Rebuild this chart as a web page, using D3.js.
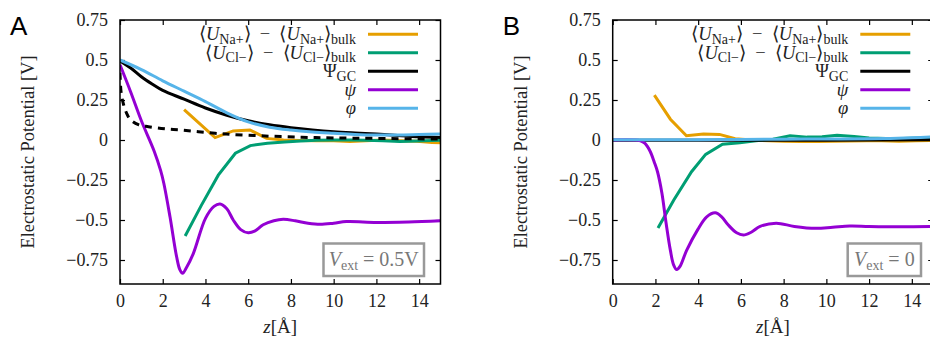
<!DOCTYPE html>
<html>
<head>
<meta charset="utf-8">
<script src="https://cdn.jsdelivr.net/npm/d3@7"></script>
<style>
  body { margin: 0; background: #fff; }
  svg { display: block; }
  text { font-family: 'Liberation Serif', 'Times New Roman', serif; }
</style>
</head>
<body>
<svg id="chart" width="930" height="341"></svg>
<script>
// ticks
const xTicks = [0, 2, 4, 6, 8, 10, 12, 14];
const yTicks = [-0.75, -0.5, -0.25, 0, 0.25, 0.5, 0.75];
const yTickLabels = ['\u22120.75', '\u22120.5', '\u22120.25', '0', '0.25', '0.5', '0.75'];

// panel A (Vext = 0.5 V)
const naA_z = [3.0, 4.45, 5.3, 6.08, 6.86, 7.65, 8.43, 9.2, 10.0, 10.76, 11.5, 12.3, 13.1, 13.9, 14.6, 15.4];
const naA_v = [0.19, 0.015, 0.057, 0.063, 0.01, 0.0, -0.003, -0.005, -0.005, -0.01, -0.005, 0.0, -0.005, -0.008, -0.015, -0.02];
const clA_z = [3.05, 3.8, 4.6, 5.4, 6.1, 6.9, 7.7, 8.45, 9.2, 10.0, 10.8, 11.5, 12.3, 13.1, 13.9, 14.6, 15.4];
const clA_v = [-0.6, -0.41, -0.22, -0.083, -0.035, -0.02, -0.012, -0.006, -0.002, 0.0, 0.0, -0.002, -0.005, -0.01, -0.007, -0.003, 0.0];
const gcA_z = [0, 0.5, 1, 1.5, 2, 3, 4, 5, 6, 7, 8, 9, 10, 11, 12, 13, 14, 15];
const gcA_v = [0.494, 0.45, 0.395, 0.35, 0.31, 0.255, 0.2, 0.155, 0.12, 0.095, 0.077, 0.063, 0.052, 0.044, 0.037, 0.028, 0.02, 0.015];
const psiA_z = [0, 0.5, 1.0, 1.6, 1.9, 2.05, 2.34, 2.65, 2.8, 2.93, 3.1, 3.43, 4.0, 4.4, 4.68, 5.0, 5.3, 5.65, 6.0, 6.3, 6.7, 7.2, 7.64, 8.2, 8.8, 9.36, 10.0, 10.6, 12.0, 13.5, 15.0];
const psiA_v = [0.47, 0.3, 0.12, -0.07, -0.19, -0.27, -0.48, -0.73, -0.81, -0.833, -0.8, -0.71, -0.49, -0.415, -0.4, -0.43, -0.5, -0.56, -0.58, -0.57, -0.53, -0.505, -0.496, -0.505, -0.52, -0.527, -0.52, -0.51, -0.515, -0.512, -0.505];
const phiA_z = [0, 1, 2, 3, 4, 5, 6, 7, 8, 9, 10, 11, 12, 13, 14, 15];
const phiA_v = [0.5, 0.44, 0.37, 0.305, 0.24, 0.17, 0.113, 0.08, 0.062, 0.05, 0.042, 0.035, 0.031, 0.031, 0.034, 0.037];
const dashA_z = [0, 0.05, 0.15, 0.3, 0.47, 0.86, 1.33, 2.1, 2.9, 3.67, 4.45, 5.2, 6.8, 8.5, 10, 12, 15];
const dashA_v = [0.42, 0.3, 0.23, 0.17, 0.13, 0.096, 0.083, 0.07, 0.062, 0.052, 0.042, 0.035, 0.025, 0.017, 0.013, 0.01, 0.006];

// panel B (Vext = 0)
const naB_z = [1.95, 2.7, 3.45, 4.25, 5.0, 5.73, 6.5, 7.3, 8.0, 8.8, 9.6, 10.3, 11.1, 11.9, 12.6, 13.4, 14.2, 15.0];
const naB_v = [0.28, 0.13, 0.027, 0.037, 0.035, 0.008, 0.0, -0.005, -0.008, -0.01, -0.01, -0.008, -0.006, -0.004, -0.004, -0.008, -0.005, -0.003];
const clB_z = [2.12, 2.86, 3.69, 4.35, 5.14, 5.95, 6.7, 7.5, 8.3, 9.1, 9.8, 10.5, 11.3, 12.0, 12.8, 13.6, 14.4, 15.2];
const clB_v = [-0.55, -0.375, -0.198, -0.09, -0.027, -0.017, -0.005, 0.005, 0.027, 0.018, 0.02, 0.03, 0.022, 0.012, 0.01, 0.01, 0.012, 0.012];
const gcB_z = [0, 5, 10, 15];
const gcB_v = [-0.002, -0.002, -0.001, 0.002];
const psiB_z = [0, 1.0, 1.3, 1.5, 1.75, 1.95, 2.1, 2.3, 2.5, 2.7, 2.85, 3.0, 3.15, 3.46, 3.98, 4.4, 4.8, 5.1, 5.4, 5.8, 6.12, 6.5, 6.9, 7.65, 8.5, 9.5, 10.3, 11.1, 12.0, 13.5, 15.0];
const psiB_v = [0, 0, -0.005, -0.02, -0.07, -0.14, -0.2, -0.33, -0.52, -0.69, -0.78, -0.81, -0.79, -0.69, -0.56, -0.48, -0.455, -0.48, -0.53, -0.58, -0.594, -0.575, -0.54, -0.52, -0.54, -0.552, -0.545, -0.5375, -0.54, -0.542, -0.54];
const phiB_z = [0, 2, 4, 6, 8, 10, 12, 13, 14, 15];
const phiB_v = [0.002, 0.002, 0.002, 0.003, 0.005, 0.006, 0.008, 0.01, 0.014, 0.02];

const colors = { na: '#E69F00', cl: '#009E73', gc: '#000000', psi: '#9400D3', phi: '#56B4E9' };
const serif = "'Liberation Serif', 'Times New Roman', serif";

function zip(zs, vs) { return zs.map((z, i) => ({ z: z, v: vs[i] })); }

const svg = d3.select('#chart');

function drawPanel(p) {
  let x = d3.scaleLinear().domain([0, 15]).range([p.left, p.left + 320.5]);
  let y = d3.scaleLinear().domain([-0.9, 0.75]).range([284, 20]);
  let g = svg.append('g');

  g.append('clipPath').attr('id', 'clip' + p.id)
    .append('rect').attr('x', x(0)).attr('y', y(0.75)).attr('width', x(15) - x(0)).attr('height', y(-0.9) - y(0.75));

  // axes, ticks pointing inward on all four sides
  g.append('g').attr('transform', `translate(${x(0)},0)`)
    .call(d3.axisLeft(y).tickValues(yTicks).tickSize(-5).tickPadding(12).tickFormat((d, i) => yTickLabels[i]))
    .call(a => a.select('.domain').remove());
  g.append('g').attr('transform', `translate(${x(15)},0)`)
    .call(d3.axisRight(y).tickValues(yTicks).tickSize(-5).tickFormat(''))
    .call(a => a.select('.domain').remove());
  g.append('g').attr('transform', `translate(0,${y(-0.9)})`)
    .call(d3.axisBottom(x).tickValues(xTicks).tickSize(-5).tickPadding(10).tickFormat(d3.format('d')))
    .call(a => a.select('.domain').remove());
  g.append('g').attr('transform', `translate(0,${y(0.75)})`)
    .call(d3.axisTop(x).tickValues(xTicks).tickSize(-5).tickFormat(''))
    .call(a => a.select('.domain').remove());
  g.selectAll('.tick line').attr('stroke', '#000').attr('stroke-width', 1.2);
  g.selectAll('.tick text').attr('font-size', 18).attr('fill', '#222')
    .style('font-family', serif);

  let line = d3.line().x(d => x(d.z)).y(d => y(d.v));
  let plot = g.append('g').attr('clip-path', `url(#clip${p.id})`);

  p.series.forEach(s => {
    plot.append('path')
      .datum(zip(s.z, s.v))
      .attr('fill', 'none')
      .attr('stroke', s.color)
      .attr('stroke-width', 3)
      .attr('stroke-dasharray', s.dash || null)
      .attr('d', line.curve(s.smooth ? d3.curveCatmullRom : d3.curveLinear));
  });

  // frame
  g.append('rect').attr('x', x(0)).attr('y', y(0.75)).attr('width', x(15) - x(0)).attr('height', y(-0.9) - y(0.75))
    .attr('fill', 'none').attr('stroke', '#000').attr('stroke-width', 1.5);

  // legend
  let mid = '\u27E9\u2002\u2212\u2002\u27E8';
  let rows = [
    { c: colors.na, parts: [['\u27E8', 0], ['U', 'i'], ['Na+', 's'], [mid, 0], ['U', 'i'], ['Na+', 's'], ['\u27E9', 0], ['bulk', 's']] },
    { c: colors.cl, parts: [['\u27E8', 0], ['U', 'i'], ['Cl\u2212', 's'], [mid, 0], ['U', 'i'], ['Cl\u2212', 's'], ['\u27E9', 0], ['bulk', 's']] },
    { c: colors.gc, parts: [['\u03A8', 0], ['GC', 's']] },
    { c: colors.psi, parts: [['\u03C8', 'i']] },
    { c: colors.phi, parts: [['\u03C6', 'i']] }
  ];
  let lx = x(0) + p.legendText;
  rows.forEach((r, i) => {
    let ly = 34.3 + i * 18.5;
    g.append('line').attr('x1', lx + 12).attr('x2', lx + 62).attr('y1', ly).attr('y2', ly)
      .attr('stroke', r.c).attr('stroke-width', 3);
    let t = g.append('text').attr('x', lx).attr('y', ly + 6).attr('text-anchor', 'end')
      .attr('font-size', 18.5).attr('fill', '#222');
    let sub = false;
    r.parts.forEach(pt => {
      let ts = t.append('tspan').text(pt[0]);
      if (pt[1] === 'i') ts.attr('font-style', 'italic');
      if (pt[1] === 's') {
        ts.attr('font-size', 14);
        if (!sub) ts.attr('dy', 3.5);
        sub = true;
      } else if (sub) {
        ts.attr('dy', -3.5);
        sub = false;
      }
    });
  });

  // Vext box
  let bx = g.append('g');
  bx.append('rect').attr('x', p.box[0]).attr('y', 243.5).attr('width', p.box[1]).attr('height', 32.5)
    .attr('fill', '#fff').attr('stroke', '#999').attr('stroke-width', 2.5);
  let bt = bx.append('text').attr('x', p.box[0] + p.box[1] / 2).attr('y', 265.5).attr('text-anchor', 'middle')
    .attr('font-size', 20).attr('fill', '#777');
  bt.append('tspan').attr('font-style', 'italic').text('V');
  bt.append('tspan').attr('font-size', 14).attr('dy', 4).text('ext');
  bt.append('tspan').attr('dy', -4).text(' = ' + p.vext);

  // axis titles and panel letter
  g.append('text').attr('transform', `translate(${p.left - 86},152) rotate(-90)`)
    .attr('text-anchor', 'middle').attr('font-size', 18.5).attr('fill', '#222')
    .text('Electrostatic Potential [V]');
  let xt = g.append('text').attr('x', x(7.5)).attr('y', 333).attr('text-anchor', 'middle')
    .attr('font-size', 19).attr('fill', '#222');
  xt.append('tspan').attr('font-style', 'italic').text('z');
  xt.append('tspan').text('[\u00C5]');
  g.append('text').attr('x', p.left - 110).attr('y', 35).attr('font-size', 26)
    .style('font-family', "'Liberation Sans', Arial, sans-serif").attr('fill', '#000').text(p.id);
}

drawPanel({
  id: 'A', left: 120, legendText: 236, box: [323.5, 100.5], vext: '0.5V',
  series: [
    { z: naA_z, v: naA_v, color: colors.na },
    { z: clA_z, v: clA_v, color: colors.cl },
    { z: gcA_z, v: gcA_v, color: colors.gc, smooth: true },
    { z: psiA_z, v: psiA_v, color: colors.psi, smooth: true },
    { z: phiA_z, v: phiA_v, color: colors.phi, smooth: true },
    { z: dashA_z, v: dashA_v, color: colors.gc, smooth: true, dash: '7,6' }
  ]
});

drawPanel({
  id: 'B', left: 612.7, legendText: 235.6, box: [847.7, 73.3], vext: '0',
  series: [
    { z: naB_z, v: naB_v, color: colors.na },
    { z: clB_z, v: clB_v, color: colors.cl },
    { z: gcB_z, v: gcB_v, color: colors.gc, smooth: true },
    { z: psiB_z, v: psiB_v, color: colors.psi, smooth: true },
    { z: phiB_z, v: phiB_v, color: colors.phi, smooth: true }
  ]
});
</script>
</body>
</html>
